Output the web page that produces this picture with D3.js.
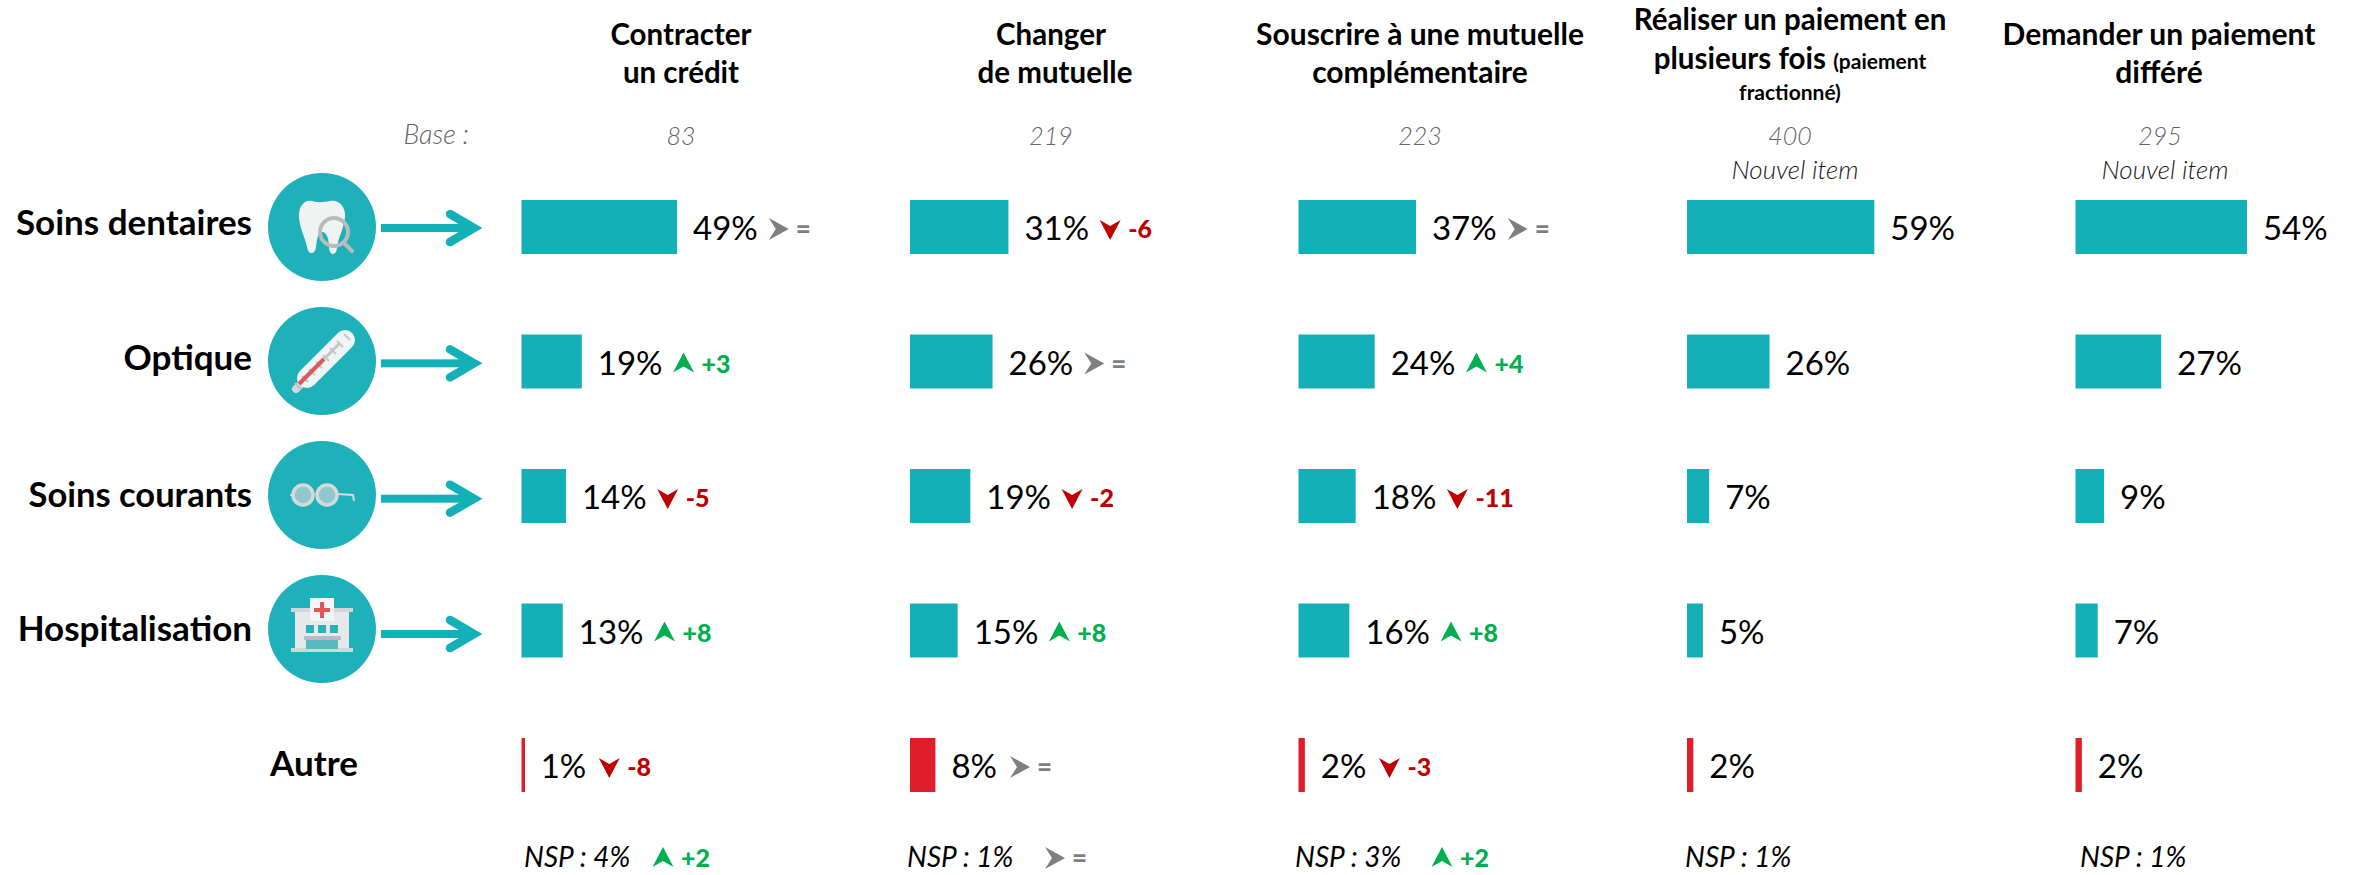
<!DOCTYPE html>
<html><head><meta charset="utf-8">
<script src="https://cdn.jsdelivr.net/npm/d3@7"></script>
<style>html,body{margin:0;background:#fff}svg{display:block}text{font-family:Lato,sans-serif}</style>
</head><body><svg id="c" width="2353" height="875"></svg>
<script>
const categories=["Soins dentaires","Optique","Soins courants","Hospitalisation","Autre"];
const bases=[83,219,223,400,295];
const valCredit=[49,19,14,13,1];
const valMutuelle=[31,26,19,15,8];
const valComplementaire=[37,24,18,16,2];
const valFractionne=[59,26,7,5,2];
const valDiffere=[54,27,9,7,2];
const deltaCredit=[0,3,-5,8,-8];
const deltaMutuelle=[-6,0,-2,8,0];
const deltaComplementaire=[0,4,-11,8,-3];
const nspValues=[4,1,3,1,1];
const nspDeltas=[2,0,2,null,null];
const values=[valCredit,valMutuelle,valComplementaire,valFractionne,valDiffere];
const deltas=[deltaCredit,deltaMutuelle,deltaComplementaire,null,null];

const TEAL="#14b0b8",CIRCLE="#1eb1ba",RED="#e01e2a",GREEN="#00b050",DKRED="#c00000",GRAY="#7f7f7f";
const svg=d3.select("#c");
const xCol=d3.scalePoint().domain(d3.range(5)).range([521.5,2075.5]);
const w=d3.scaleLinear().domain([0,100]).range([0,317.5]);
const yRow=d3.scalePoint().domain(d3.range(5)).range([227,765]);
const BAR=54;

const headers=[
 {cx:[681,681],lines:[[["Contracter",29.5]],[["un crédit",29.5]]],y:[45,83]},
 {cx:[1051,1055],lines:[[["Changer",29.5]],[["de mutuelle",29.5]]],y:[45,83]},
 {cx:[1420,1420],lines:[[["Souscrire à une mutuelle",30]],[["complémentaire",30]]],y:[45,83]},
 {cx:[1790,1790,1790],lines:[[["Réaliser un paiement en",29.5]],[["plusieurs fois ",29.5],["(paiement",21]],[["fractionné)",21]]],y:[30,69,100]},
 {cx:[2159,2159],lines:[[["Demander un paiement",30]],[["différé",30]]],y:[45,83]}
];
headers.forEach(h=>h.lines.forEach((ln,i)=>{
  const t=svg.append("text").attr("x",h.cx[i]).attr("y",h.y[i]).attr("text-anchor","middle").attr("font-weight",700).attr("fill","#000");
  ln.forEach(s=>t.append("tspan").attr("font-size",s[1]).text(s[0]));
}));
const baseCx=[681,1051,1420,1790,2160];
const lightItalic=s=>s.attr("font-style","italic").attr("font-weight",300);
svg.append("text").attr("x",469).attr("y",144).attr("text-anchor","end").attr("font-size",27).call(lightItalic).attr("fill","#666").text("Base :");
bases.forEach((b,i)=>svg.append("text").attr("x",baseCx[i]).attr("y",145).attr("text-anchor","middle").attr("font-size",25).call(lightItalic).attr("fill","#666").text(b));
[1795,2165].forEach(x=>svg.append("text").attr("x",x).attr("y",179).attr("text-anchor","middle").attr("font-size",26).call(lightItalic).attr("fill","#1a1a1a").text("Nouvel item"));

const labelRight=[252,252,252,252,358];
const labelBase=[235,370,507,641,776];
categories.forEach((c,i)=>svg.append("text").attr("x",labelRight[i]).attr("y",labelBase[i]).attr("text-anchor","end").attr("font-size",i===2?34.5:35).attr("font-weight",700).attr("fill","#000").text(c));

function tooth(g){
  g.append("path").attr("d","M-10,-26 C-18,-28 -24,-20 -23,-9 C-22,2 -17,10 -15,20 C-14,28 -7,28 -6,20 C-5,12 -4,5 0,5 C5,5 7,12 7,21 C8,29 14,29 15,21 C16,10 22,2 23,-10 C24,-21 16,-28 8,-26 C3,-25 -4,-24 -10,-26 Z").attr("fill","#f1f3f3");
  g.append("circle").attr("cx",12).attr("cy",5).attr("r",14).attr("fill","none").attr("stroke","#b9bcbd").attr("stroke-width",4);
  g.append("line").attr("x1",22).attr("y1",16).attr("x2",30).attr("y2",24).attr("stroke","#b9bcbd").attr("stroke-width",4).attr("stroke-linecap","round");
}
function thermometer(g){
  g.append("line").attr("x1",-26).attr("y1",28).attr("x2",-10).attr("y2",12).attr("stroke","#d6d8d8").attr("stroke-width",8).attr("stroke-linecap","round");
  g.append("line").attr("x1",-15).attr("y1",17).attr("x2",23).attr("y2",-21).attr("stroke","#edf5f6").attr("stroke-width",20).attr("stroke-linecap","round");
  d3.range(-3,5).forEach(k=>g.append("line").attr("x1",k*7-6).attr("y1",-k*7+1).attr("x2",k*7).attr("y2",-k*7+7).attr("stroke","#c4c6c6").attr("stroke-width",2));
  g.append("line").attr("x1",2).attr("y1",-2).attr("x2",17).attr("y2",-17).attr("stroke","#c4c6c6").attr("stroke-width",3);
  g.append("line").attr("x1",-23).attr("y1",23).attr("x2",2).attr("y2",-2).attr("stroke","#d9595c").attr("stroke-width",4);
}
function glasses(g){
  [-19,5].forEach(x=>g.append("circle").attr("cx",x).attr("cy",0).attr("r",10).attr("fill","#8fc8cc").attr("stroke","#d5d9d9").attr("stroke-width",3.5));
  g.append("path").attr("d","M15,-1 L31,0 L32,6").attr("fill","none").attr("stroke","#d5d9d9").attr("stroke-width",2);
  g.append("path").attr("d","M-29,0 L-32,0").attr("stroke","#d5d9d9").attr("stroke-width",2);
}
function hospital(g){
  const r=(x,y,wd,h,f)=>g.append("rect").attr("x",x).attr("y",y).attr("width",wd).attr("height",h).attr("fill",f);
  r(-27,-21,54,42,"#e6e8ea");
  r(-31,-21,62,4,"#d3d6d8");
  r(-31,19,62,4,"#d3d6d8");
  r(-12,-31,24,23,"#f4f5f5");
  r(-8,-21,16,4,"#e4535a");
  r(-2,-27,4,16,"#e4535a");
  [-16,-4,8].forEach(x=>r(x,-4,8,8,"#2ab3bb"));
  r(-18,7,37,4,"#b6bcc0");
  r(-16,11,32,9,"#5bb7c0");
}
const iconFns=[tooth,thermometer,glasses,hospital];
const iconY=d3.scalePoint().domain(d3.range(4)).range([227,629]);
const arrowY=d3.scalePoint().domain(d3.range(4)).range([228,634]);
iconFns.forEach((fn,i)=>{
  svg.append("circle").attr("cx",322).attr("cy",iconY(i)).attr("r",54).attr("fill",CIRCLE);
  const a=svg.append("g").attr("transform",`translate(0,${arrowY(i)})`);
  a.append("rect").attr("x",381).attr("y",-4).attr("width",88).attr("height",8).attr("fill",TEAL);
  a.append("path").attr("d","M450,-14 L474,0 L450,14").attr("fill","none").attr("stroke",TEAL).attr("stroke-width",8.5).attr("stroke-linecap","round");
  fn(svg.append("g").attr("transform",`translate(322,${iconY(i)})`));
});

function marker(x,y,d){
  const col=d>0?GREEN:d<0?DKRED:GRAY;
  const p=d>0?"M0,-11 L10.5,9 L0,3 L-10.5,9 Z":d<0?"M0,11 L10.5,-9 L0,-3 L-10.5,-9 Z":"M-10,-11 L10,0 L-10,11 L-3,0 Z";
  svg.append("path").attr("transform",`translate(${x},${y})`).attr("d",p).attr("fill",col);
  svg.append("text").attr("x",x+(d===0?17:18)).attr("y",y+9).attr("font-size",d===0?26:25).attr("font-weight",900).attr("fill",col).text(d===0?"=":(d>0?"+":"")+d);
}

values.forEach((vals,c)=>vals.forEach((v,r)=>{
  const x0=xCol(c),cy=yRow(r);
  svg.append("rect").attr("x",x0).attr("y",cy-BAR/2).attr("width",Math.max(w(v),3.5)).attr("height",BAR).attr("fill",r===4?RED:TEAL);
  const end=x0+w(v);
  const t=svg.append("text").attr("x",end+16).attr("y",cy+13).attr("font-size",33).attr("fill","#000").text(v+"%");
  if(deltas[c]){
    const tw=t.node().getComputedTextLength();
    marker(end+16+tw+(r===4?23:21),cy+2,deltas[c][r]);
  }
}));

const nspX=[524,907,1295,1685,2080];
const nspMarkerX=[663,1055,1442];
nspValues.forEach((v,c)=>{
  svg.append("text").attr("x",nspX[c]).attr("y",867).attr("font-size",28).attr("font-style","italic").attr("fill","#000").text(`NSP : ${v}%`);
  if(nspDeltas[c]!==null) marker(nspMarkerX[c],858,nspDeltas[c]);
});
</script>
</body></html>
